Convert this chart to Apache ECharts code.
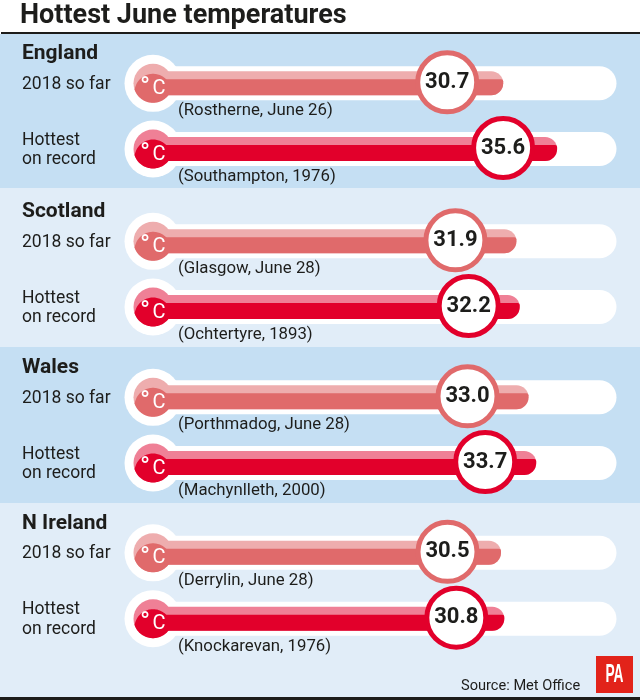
<!DOCTYPE html>
<html>
<head>
<meta charset="utf-8">
<title>Hottest June temperatures</title>
<script src="https://cdn.jsdelivr.net/npm/echarts@6/dist/echarts.min.js"></script>
<style>
  html, body { margin: 0; padding: 0; background: #fff; }
  #chart { width: 640px; height: 700px; }
</style>
</head>
<body>
<div id="chart"></div>
<script>
// data
var regions = ['England', 'Scotland', 'Wales', 'N Ireland'];
var rowLabels = ['2018 so far', 'Hottest\non record'];
var temps2018 = [30.7, 31.9, 33.0, 30.5];
var tempsRecord = [35.6, 32.2, 33.7, 30.8];
var places2018 = ['(Rostherne, June 26)', '(Glasgow, June 28)', '(Porthmadog, June 28)', '(Derrylin, June 28)'];
var placesRecord = ['(Southampton, 1976)', '(Ochtertyre, 1893)', '(Machynlleth, 2000)', '(Knockarevan, 1976)'];
var scaleMax = 41;

// layout
var FONT = 'Roboto, sans-serif';
var INK = '#1d1d1b';
var rowCentres = [83.3, 149, 241.3, 307, 397.3, 463, 552.8, 618.7];
var headingY = [54, 212, 368, 524];
var bands = [[34, 188, '#c5dff3'], [188, 347, '#e1edf8'], [347, 503, '#c5dff3'], [503, 697, '#e1edf8']];
// the round badges are not centred at a fixed distance from the bar end
var badgeOffsets = [-56, -54, -61, -51, -61, -51, -53.5, -48];
var GRID_LEFT = 165.5;
var GRID_WIDTH = 451;
var TRACK_H = 34;

var soFarColours = { dark: '#e06a6b', light: '#eeadae' };
var recordColours = { dark: '#e2002b', light: '#ef8096' };

// white halo behind the bulb and the white track
function renderTrack(params, api) {
    var p = api.coord([0, 0]);
    var end = api.coord([scaleMax, 0]);
    return {
        type: 'group',
        children: [
            { type: 'circle', shape: { cx: p[0] - 12.5, cy: p[1], r: 28.5 }, style: { fill: '#fff' } },
            {
                type: 'rect',
                shape: { x: p[0] - 12.5, y: p[1] - TRACK_H / 2, width: end[0] - p[0] + 12.5, height: TRACK_H, r: [0, 17, 17, 0] },
                style: { fill: '#fff' }
            }
        ]
    };
}

// bulb and the darker lower part of the bar
function makeRenderFill(colours) {
    return function (params, api) {
        var start = api.coord([0, 0]);
        var end = api.coord([api.value(0), 0]);
        var cx = start[0] - 12.5;
        var cy = start[1];
        var r = 19.5;
        var lensDy = 9;
        var lensR = 18.5;
        var pts = [];
        var i, dx;
        for (i = 0; i <= 40; i++) {
            dx = -r + (2 * r * i) / 40;
            var top = -Math.sqrt(Math.max(0, r * r - dx * dx));
            var lens = lensDy - Math.sqrt(Math.max(0, lensR * lensR - dx * dx));
            pts.push([cx + dx, cy + Math.max(top, Math.abs(dx) < lensR ? lens : -top)]);
        }
        for (i = 40; i >= 0; i--) {
            dx = -r + (2 * r * i) / 40;
            pts.push([cx + dx, cy + Math.sqrt(Math.max(0, r * r - dx * dx))]);
        }
        return {
            type: 'group',
            children: [
                { type: 'circle', shape: { cx: cx, cy: cy, r: r }, style: { fill: colours.light } },
                { type: 'polygon', shape: { points: pts }, style: { fill: colours.dark } },
                {
                    type: 'rect',
                    shape: { x: start[0] - 4, y: cy - 4, width: end[0] - start[0] + 4, height: 16, r: [0, 2, 12, 0] },
                    style: { fill: colours.dark }
                },
                {
                    type: 'text',
                    style: {
                        x: cx - 8, y: cy + 6, text: '°', fill: '#fff',
                        font: '400 27px ' + FONT, textAlign: 'center', textVerticalAlign: 'middle'
                    }
                },
                {
                    type: 'text',
                    style: {
                        x: cx + 6, y: cy + 5.5, text: 'C', fill: '#fff',
                        font: '400 20px ' + FONT, textAlign: 'center', textVerticalAlign: 'middle'
                    }
                }
            ]
        };
    };
}

var grids = [];
var xAxes = [];
var yAxes = [];
var seriesList = [];
var texts = [];

function addText(x, y, text, font, extra) {
    var el = {
        type: 'text', x: x, y: y, z: 10,
        style: { text: text, fill: INK, font: font, textVerticalAlign: 'middle' }
    };
    if (extra) {
        el.style.lineHeight = extra;
    }
    texts.push(el);
}

function addRow(row, value, colours, label, place) {
    var cy = rowCentres[row];
    grids.push({ left: GRID_LEFT, width: GRID_WIDTH, top: cy - TRACK_H / 2, height: TRACK_H });
    xAxes.push({ gridIndex: row, type: 'value', min: 0, max: scaleMax, show: false });
    yAxes.push({ gridIndex: row, type: 'category', data: [regions[Math.floor(row / 2)]], show: false });

    seriesList.push({
        type: 'custom', xAxisIndex: row, yAxisIndex: row, data: [[value, 0]],
        renderItem: renderTrack, silent: true, z: 2
    });
    seriesList.push({
        type: 'bar', xAxisIndex: row, yAxisIndex: row, data: [value], barWidth: 24,
        itemStyle: { color: colours.light, borderRadius: [0, 12, 12, 0] }, silent: true, z: 3
    });
    seriesList.push({
        type: 'custom', xAxisIndex: row, yAxisIndex: row, data: [[value, 0]],
        encode: { x: 0, y: 1 }, renderItem: makeRenderFill(colours), silent: true, z: 4
    });
    seriesList.push({
        type: 'scatter', xAxisIndex: row, yAxisIndex: row, data: [[value, 0]],
        symbol: 'circle', symbolSize: 59, symbolOffset: [badgeOffsets[row], -1], silent: true, z: 5,
        itemStyle: { color: '#fff', borderColor: colours.dark, borderWidth: 5, opacity: 1 },
        label: {
            show: true, position: 'inside', color: INK,
            fontFamily: FONT, fontWeight: 700, fontSize: 22,
            formatter: function (p) { return p.value[0].toFixed(1); }
        }
    });

    // row label and the place underneath the bar
    addText(22, cy + 1, label, '400 17.5px ' + FONT, 19.5);
    addText(178, cy + 28, place, '400 16.8px ' + FONT);
}

regions.forEach(function (name, i) {
    addRow(i * 2, temps2018[i], soFarColours, rowLabels[0], places2018[i]);
    addRow(i * 2 + 1, tempsRecord[i], recordColours, rowLabels[1], placesRecord[i]);
    addText(22, headingY[i], name, '700 21px ' + FONT);
});

var backdrop = bands.map(function (b) {
    return { type: 'rect', shape: { x: 0, y: b[0], width: 640, height: b[1] - b[0] }, style: { fill: b[2] }, z: 0 };
});
backdrop.push({ type: 'rect', shape: { x: 1, y: 32, width: 639, height: 2 }, style: { fill: INK }, z: 1 });
backdrop.push({ type: 'rect', shape: { x: 0, y: 697, width: 640, height: 3 }, style: { fill: INK }, z: 1 });
backdrop.push({ type: 'rect', shape: { x: 596, y: 656, width: 37, height: 37 }, style: { fill: '#e2231a' }, z: 1 });

var chart = echarts.init(document.getElementById('chart'));
chart.setOption({
    animation: false,
    backgroundColor: '#fff',
    title: {
        text: 'Hottest June temperatures', left: 20, top: 3, padding: 0,
        textStyle: { color: INK, fontFamily: FONT, fontWeight: 700, fontSize: 27 }
    },
    grid: grids,
    xAxis: xAxes,
    yAxis: yAxes,
    series: seriesList,
    graphic: backdrop.concat(texts).concat([
        {
            type: 'text', x: 461, y: 686, z: 10,
            style: { text: 'Source: Met Office', fill: INK, font: '400 14.6px ' + FONT, textVerticalAlign: 'middle' }
        },
        {
            type: 'text', x: 614.5, y: 675, scaleX: 0.55, z: 10,
            style: {
                text: 'PA', fill: '#fff', font: '700 25px "Liberation Sans", sans-serif',
                textAlign: 'center', textVerticalAlign: 'middle'
            }
        }
    ])
});
</script>
</body>
</html>
